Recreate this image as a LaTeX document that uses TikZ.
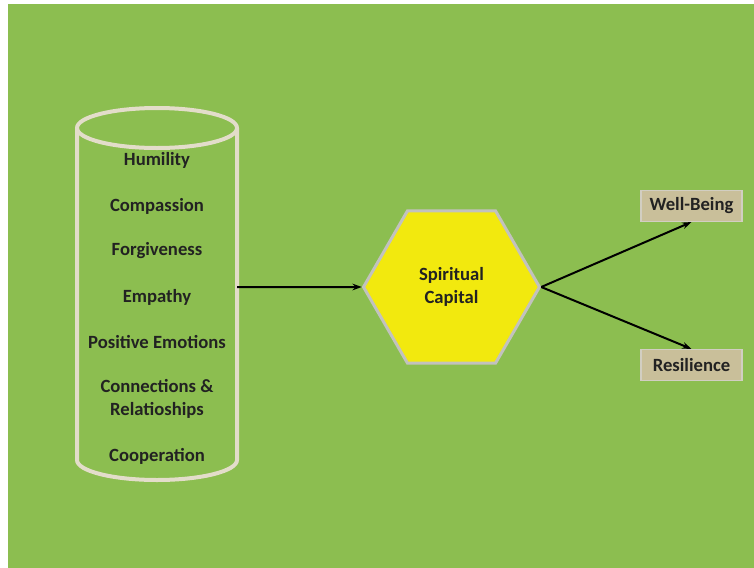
\documentclass[tikz,border=0pt]{standalone}
\usepackage{fontspec}
\setmainfont{Carlito}
\usetikzlibrary{positioning, shapes.geometric, arrows.meta}
\definecolor{bggreen}{HTML}{8CBE50}
\definecolor{cylline}{HTML}{E3DDCA}
\definecolor{hexfill}{HTML}{F2E90E}
\definecolor{hexline}{HTML}{C2C2BE}
\definecolor{boxfill}{HTML}{C9BF9A}
\definecolor{boxline}{HTML}{D2CEC2}
\definecolor{textdark}{HTML}{222222}

\begin{document}
\begin{tikzpicture}
		[x=0.75pt, y=-0.75pt,
		 every node/.style={font=\fontsize{14}{17}\selectfont\bfseries, text=textdark},
		 item/.style={align=center},
		 hexa/.style={regular polygon, regular polygon sides=6, minimum size=132pt,
		   inner sep=0pt, draw=hexline, line width=2.25pt, fill=hexfill, align=center},
		 outcome/.style={draw=boxline, line width=0.8pt, fill=boxfill,
		   minimum width=75.75pt, minimum height=23.25pt, inner sep=0pt},
		 link/.style={-{Stealth[length=7pt, width=5pt]}, line width=1.5pt, black}]
		\useasboundingbox (0,0) rectangle (754,568);
		\fill[white] (0,0) rectangle (754,568);
		\fill[bggreen] (8,4) rectangle (754,568);

		% cylinder
		\draw[cylline, line width=3pt] (157,128) ellipse [x radius=80, y radius=20];
		\draw[cylline, line width=3pt] (77,128) -- (77,460)
			arc [start angle=180, end angle=0, x radius=80, y radius=20] -- (237,128);
		\coordinate (cylout) at (237,287);

		\node[item] (humility) at (157,160) {Humility};
		\node[item] (compassion) at (157,206) {Compassion};
		\node[item] (forgive) at (157,251) {Forgiveness};
		\node[item] (empathy) at (157,297) {Empathy};
		\node[item] (posemo) at (157,342) {Positive Emotions};
		\node[item] (connect) at (157,399) {Connections \&\\Relatioships};
		\node[item] (coop) at (157,456) {Cooperation};

		\node[hexa] (capital) at (451.5,287) {Spiritual\\Capital};
		\node[outcome] (wellb) at (691.5,206) {Well-Being};
		\node[outcome] (resil) at (691.5,365) {Resilience};

		\draw[link] (cylout) -- (capital.west);
		\draw[link] (capital.east) -- (wellb.south);
		\draw[link] (capital.east) -- (resil.north);
	\end{tikzpicture}
\end{document}
